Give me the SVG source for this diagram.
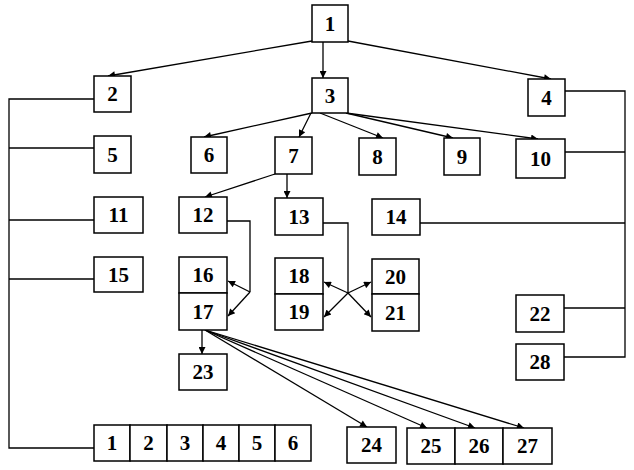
<svg xmlns="http://www.w3.org/2000/svg" width="634" height="470" viewBox="0 0 634 470">
<style>
rect{fill:#fff;stroke:#000;stroke-width:1.5}
text{font-family:"Liberation Serif","Times New Roman",serif;font-weight:bold;font-size:21px;text-anchor:middle;dominant-baseline:central;fill:#000}
.c line,.c polyline{stroke:#000;stroke-width:1.3;fill:none}
.a{marker-end:url(#ah)}
</style>
<defs>
<marker id="ah" viewBox="0 0 10 10" refX="10" refY="5" markerWidth="10" markerHeight="7" orient="auto" markerUnits="userSpaceOnUse"><path d="M0,0 L10,5 L0,10 z" fill="#000"/></marker>
</defs>
<rect x="0" y="0" width="634" height="470" style="stroke:none"/>
<g class="c" id="connectors">
<line class="a" x1="312" y1="41" x2="108" y2="76"/>
<line class="a" x1="323" y1="42" x2="323" y2="78"/>
<line class="a" x1="348" y1="41" x2="551" y2="79"/>
<line class="a" x1="312" y1="113" x2="204" y2="137"/>
<line class="a" x1="311" y1="113" x2="299" y2="137"/>
<line class="a" x1="320" y1="113" x2="383" y2="138"/>
<line class="a" x1="346" y1="113" x2="453" y2="138"/>
<line class="a" x1="346" y1="113" x2="538" y2="139"/>
<line class="a" x1="275" y1="174" x2="205" y2="197"/>
<line class="a" x1="287" y1="174" x2="287" y2="198"/>
<polyline points="227,221 250,221 250,292"/>
<line class="a" x1="250" y1="292" x2="228" y2="281"/>
<line class="a" x1="250" y1="292" x2="228" y2="316"/>
<polyline points="323,223 348,223 348,293"/>
<line class="a" x1="348" y1="293" x2="324" y2="282"/>
<line class="a" x1="348" y1="293" x2="324" y2="317"/>
<line class="a" x1="348" y1="293" x2="371" y2="282"/>
<line class="a" x1="348" y1="293" x2="371" y2="317"/>
<line class="a" x1="202" y1="330" x2="202" y2="354"/>
<line class="a" x1="205" y1="330" x2="367" y2="427"/>
<line class="a" x1="205" y1="330" x2="427" y2="428"/>
<line class="a" x1="205" y1="330" x2="475" y2="428"/>
<line class="a" x1="205" y1="330" x2="524" y2="428"/>
<polyline points="94,99 9,99 9,448 94,448"/>
<line x1="9" y1="148" x2="94" y2="148"/>
<line x1="9" y1="220" x2="94" y2="220"/>
<line x1="9" y1="279" x2="94" y2="279"/>
<polyline points="565,91 625,91 625,357 564,357"/>
<line x1="565" y1="152" x2="625" y2="152"/>
<line x1="420" y1="223" x2="625" y2="223"/>
<line x1="564" y1="308" x2="625" y2="308"/>
</g>
<g id="n1"><rect x="312" y="5" width="36" height="37"/><text x="330" y="23.5">1</text></g>
<g id="n2"><rect x="94" y="76" width="37" height="36"/><text x="112.5" y="94">2</text></g>
<g id="n3"><rect x="312" y="78" width="36" height="35"/><text x="330" y="95.5">3</text></g>
<g id="n4"><rect x="528" y="79" width="37" height="37"/><text x="546.5" y="97.5">4</text></g>
<g id="n5"><rect x="94" y="136" width="37" height="37"/><text x="112.5" y="154.5">5</text></g>
<g id="n6"><rect x="191" y="137" width="36" height="36"/><text x="209" y="155">6</text></g>
<g id="n7"><rect x="275" y="137" width="37" height="37"/><text x="293.5" y="155.5">7</text></g>
<g id="n8"><rect x="359" y="138" width="37" height="37"/><text x="377.5" y="156.5">8</text></g>
<g id="n9"><rect x="444" y="138" width="36" height="37"/><text x="462" y="156.5">9</text></g>
<g id="n10"><rect x="516" y="139" width="49" height="39"/><text x="540.5" y="158.5">10</text></g>
<g id="n11"><rect x="94" y="197" width="49" height="36"/><text x="118.5" y="215">11</text></g>
<g id="n12"><rect x="179" y="197" width="48" height="36"/><text x="203" y="215">12</text></g>
<g id="n13"><rect x="275" y="198" width="48" height="37"/><text x="299" y="216.5">13</text></g>
<g id="n14"><rect x="372" y="199" width="48" height="36"/><text x="396" y="217">14</text></g>
<g id="n15"><rect x="94" y="257" width="49" height="35"/><text x="118.5" y="274.5">15</text></g>
<g id="n16"><rect x="179" y="257" width="48" height="36"/><text x="203" y="275">16</text></g>
<g id="n17"><rect x="179" y="293" width="48" height="37"/><text x="203" y="311.5">17</text></g>
<g id="n18"><rect x="275" y="258" width="48" height="36"/><text x="299" y="276">18</text></g>
<g id="n19"><rect x="275" y="294" width="48" height="36"/><text x="299" y="312">19</text></g>
<g id="n20"><rect x="372" y="259" width="47" height="35"/><text x="395.5" y="276.5">20</text></g>
<g id="n21"><rect x="372" y="294" width="47" height="37"/><text x="395.5" y="312.5">21</text></g>
<g id="n22"><rect x="516" y="295" width="48" height="37"/><text x="540" y="313.5">22</text></g>
<g id="n23"><rect x="179" y="354" width="48" height="36"/><text x="203" y="372">23</text></g>
<g id="n28"><rect x="516" y="344" width="48" height="36"/><text x="540" y="362">28</text></g>
<g id="row1to6">
<rect x="94" y="425" width="36" height="36"/><text x="112" y="443">1</text>
<rect x="130" y="425" width="37" height="36"/><text x="148.5" y="443">2</text>
<rect x="167" y="425" width="36" height="36"/><text x="185" y="443">3</text>
<rect x="203" y="425" width="36" height="36"/><text x="221" y="443">4</text>
<rect x="239" y="425" width="36" height="36"/><text x="257" y="443">5</text>
<rect x="275" y="425" width="36" height="36"/><text x="293" y="443">6</text>
</g>
<g id="n24"><rect x="347" y="427" width="49" height="36"/><text x="371.5" y="445">24</text></g>
<g id="n25"><rect x="407" y="428" width="48" height="36"/><text x="431" y="446">25</text></g>
<g id="n26"><rect x="455" y="428" width="48" height="36"/><text x="479" y="446">26</text></g>
<g id="n27"><rect x="503" y="428" width="49" height="36"/><text x="527.5" y="446">27</text></g>
</svg>
